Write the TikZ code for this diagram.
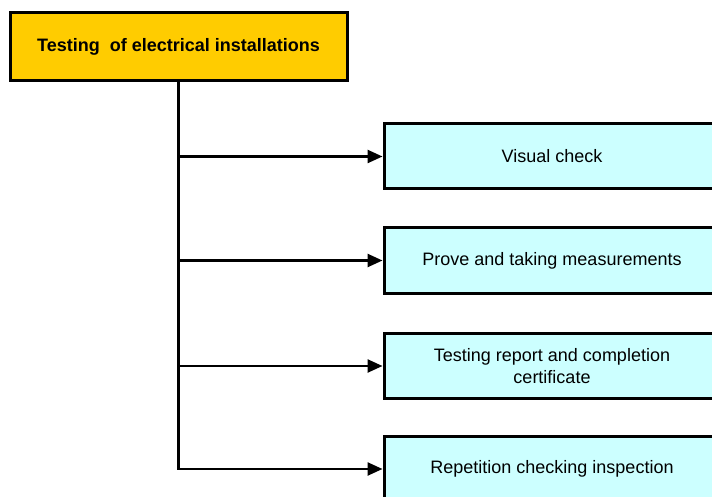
\documentclass[tikz,border=0pt]{standalone}
\usepackage{fontspec}
\setmainfont{Liberation Sans}
\usetikzlibrary{arrows.meta}
\definecolor{topyellow}{HTML}{FFCC00}
\definecolor{boxcyan}{HTML}{CCFFFF}
\begin{document}
\begin{tikzpicture}[x=1pt,y=-1pt,
  topbox/.style={draw=black,line width=3pt,fill=topyellow,minimum width=337pt,minimum height=68pt,inner sep=0pt,font=\fontsize{18}{21}\selectfont\bfseries},
  stepbox/.style={draw=black,line width=3pt,fill=boxcyan,minimum width=336pt,minimum height=65pt,inner sep=0pt,align=center,font=\fontsize{18}{21.5}\selectfont},
  conn/.style={line width=2.5pt,-{Triangle[length=15pt,width=13pt]}},
  trunk/.style={line width=2.5pt}]
\useasboundingbox (0,0) rectangle (712,497);
\clip (0,0) rectangle (712,497);
\node[topbox] (top) at (178.5,47) {Testing\ \ of electrical installations};
\node[stepbox] (b1) at (552,156.5) {Visual check};
\node[stepbox] (b2) at (552,260.5) {Prove and taking measurements};
\node[stepbox] (b3) at (552,366) {Testing report and completion\\certificate};
\node[stepbox] (b4) at (552,469) {Repetition checking inspection};
\draw[trunk] (top.south) -- (top.south |- b4.west);
\draw[conn] (top.south |- b1.west) -- (b1.west);
\draw[conn] (top.south |- b2.west) -- (b2.west);
\draw[conn] (top.south |- b3.west) -- (b3.west);
\draw[conn] ([xshift=-1.25pt]top.south |- b4.west) -- (b4.west);
\end{tikzpicture}
\end{document}
